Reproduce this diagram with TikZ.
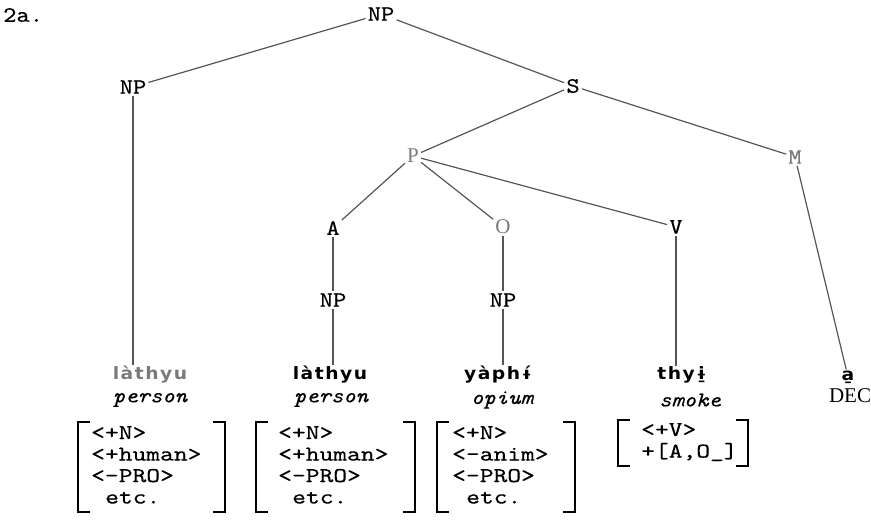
\documentclass[tikz,border=0pt]{standalone}
\usepackage{fontspec}
% typewriter faces: Latin Modern Mono, widened to a typewriter pitch
\newfontfamily\twfeat{lmmono10-regular.otf}[FakeStretch=1.25, FakeBold=0.4]
\newfontfamily\twlab{lmmono10-regular.otf}[FakeStretch=1.15, FakeBold=0.4]
\newfontfamily\twgloss{lmmono10-italic.otf}[FakeStretch=1.12, FakeBold=0.4]
\newfontfamily\lahu{DejaVu Sans}[FakeStretch=1.1, LetterSpace=9]
\newfontfamily\lahubold{DejaVu Sans Bold}[FakeStretch=1.1, LetterSpace=9]
\newfontfamily\labserif{Liberation Serif}
\definecolor{linec}{HTML}{555555}
\definecolor{pale}{HTML}{7a7a7a}
\tikzset{
  lab/.style={inner sep=2pt, font=\twlab\fontsize{22}{24}\selectfont},
  serlab/.style={inner sep=2pt, text=pale, font=\labserif\fontsize{21}{24}\selectfont},
  word/.style={inner sep=1pt, font=\lahubold\fontsize{17}{20}\selectfont},
  paleword/.style={inner sep=1pt, text=pale, font=\lahubold\fontsize{17}{20}\selectfont},
  gloss/.style={inner sep=1pt, font=\twgloss\fontsize{21}{22}\selectfont},
  feat/.style={inner sep=0pt, anchor=north west, align=left, font=\twfeat\fontsize{21}{21.5}\selectfont},
  branch/.style={draw=linec, line width=1.2pt},
  brk/.style={draw=black, line width=1.3pt}
}
\begin{document}
\begin{tikzpicture}[x=1pt,y=-1pt]
\useasboundingbox (0,0) rectangle (871,525);

% example number
\node[lab, anchor=west] (num) at (1,15) {2a.};

% tree labels
\node[lab] (root) at (381,14) {NP};
\node[lab] (np1) at (133,87) {NP};
\node[lab] (s) at (573,86) {S};
\node[serlab] (p) at (413,156) {P};
\node[lab, text=pale] (m) at (795,157) {M};
\node[lab] (a) at (333,228) {A};
\node[serlab] (o) at (503,227) {O};
\node[lab] (v) at (676,227) {V};
\node[lab] (np2) at (333,300) {NP};
\node[lab] (np3) at (503,300) {NP};

% Lahu words
\node[paleword] (w1) at (150,375) {làthyu};
\node[word] (w2) at (330,375) {làthyu};
\node[word] (w3) at (498,375) {yàphɨ́};
\node[word] (w4) at (682,375) {thyɨ̱};
\node[word] (w5) at (848,377) {a̱};

% glosses
\node[gloss] (g1) at (150,400) {person};
\node[gloss] (g2) at (331,400) {person};
\node[gloss] (g3) at (502,400) {opium};
\node[gloss] (g4) at (690,400) {smoke};
\node[serlab, text=black] (g5) at (850,396) {DEC};

% branches
\draw[branch] (root) -- (np1);
\draw[branch] (root) -- (s);
\draw[branch] (s) -- (p);
\draw[branch] (s) -- (m);
\draw[branch] (p) -- (a);
\draw[branch] (p) -- (o);
\draw[branch] (p) -- (v);
\draw[branch] (a) -- (np2);
\draw[branch] (o) -- (np3);
\draw[branch] (np2.south) -- (np2.south |- w2.north);
\draw[branch] (np3.south) -- (np3.south |- w3.north);
\draw[branch] (v.south) -- (v.south |- w4.north);
\draw[branch] (np1.south) -- (np1.south |- w1.north);
\draw[branch] (m) -- (w5);

% feature matrices
\node[feat] (f1) at (91,426) {<+N>\\<+human>\\<-PRO>\\\hspace*{14pt}etc.};
\node[feat] (f2) at (278,426) {<+N>\\<+human>\\<-PRO>\\\hspace*{14pt}etc.};
\node[feat] (f3) at (452,426) {<+N>\\<-anim>\\<-PRO>\\\hspace*{14pt}etc.};
\node[feat] (f4) at (641,423) {<+V>\\+[A,O\_]};

% brackets
\draw[brk] (90,422) -- (78,422) -- (78,512) -- (90,512);
\draw[brk] (213,422) -- (225,422) -- (225,512) -- (213,512);
\draw[brk] (268,422) -- (256,422) -- (256,512) -- (268,512);
\draw[brk] (403,422) -- (415,422) -- (415,512) -- (403,512);
\draw[brk] (449,422) -- (437,422) -- (437,512) -- (449,512);
\draw[brk] (563,422) -- (575,422) -- (575,512) -- (563,512);
\draw[brk] (630,420) -- (618,420) -- (618,466) -- (630,466);
\draw[brk] (736,420) -- (748,420) -- (748,466) -- (736,466);
\end{tikzpicture}
\end{document}
